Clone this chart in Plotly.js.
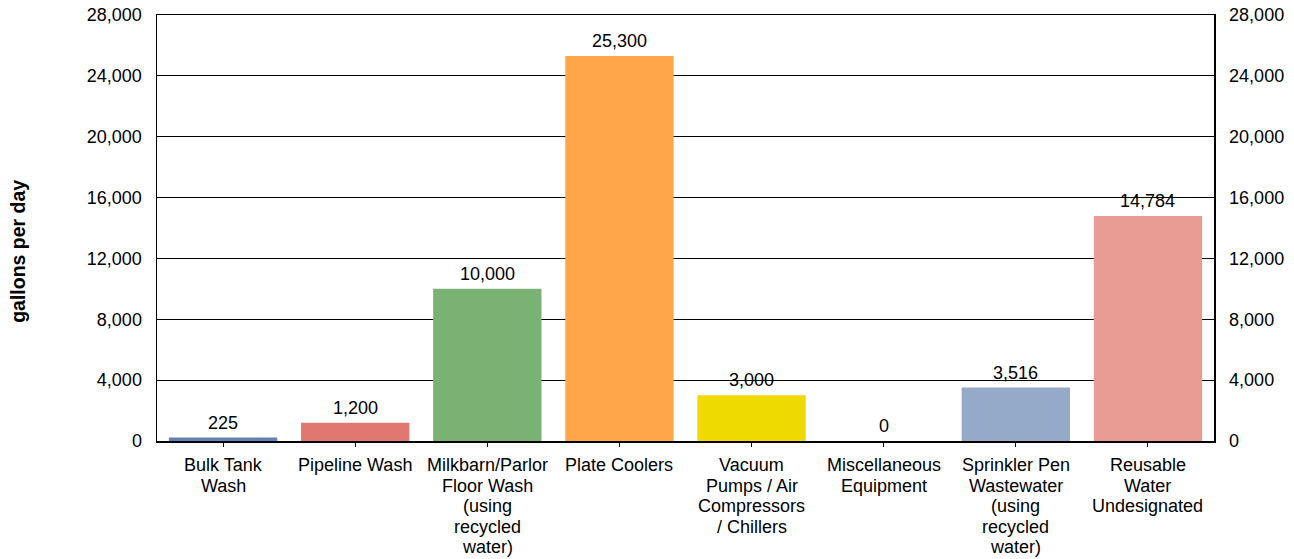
<!DOCTYPE html>
<html><head><meta charset="utf-8">
<script src="https://cdn.plot.ly/plotly-3.0.1.min.js"></script>
<style>body{margin:0;background:#fff}#c{width:1294px;height:559px}</style>
</head><body><div id="c"></div>
<script>
const categories = ["Bulk Tank|Wash","Pipeline Wash","Milkbarn/Parlor|Floor Wash|(using|recycled|water)","Plate Coolers","Vacuum|Pumps / Air|Compressors|/ Chillers","Miscellaneous|Equipment","Sprinkler Pen|Wastewater|(using|recycled|water)","Reusable|Water|Undesignated"];
const values = [225,1200,10000,25300,3000,0,3516,14784];
const barColors = ["#6382B2","#E07770","#7AB273","#FFA54A","#EED900","#94AAC8","#94AAC8","#E89C93"];
const tickVals = [0,4000,8000,12000,16000,20000,24000,28000];
const yTitle = "gallons per day";
const font = {family:"Liberation Sans, Arial, sans-serif", size:18, color:"#000"};

const data = [
 {type:"bar", x:categories, y:values, marker:{color:barColors}, width:0.82,
  hoverinfo:"skip", showlegend:false},
 {type:"scatter", x:categories, y:values, yaxis:"y2", mode:"markers",
  marker:{opacity:0}, hoverinfo:"skip", showlegend:false}
];
const annotations = [];
categories.forEach((c,i)=>{
  annotations.push({x:c, y:values[i], xref:"x", yref:"y", text:values[i].toLocaleString("en-US"),
    showarrow:false, yanchor:"bottom", xanchor:"center", yshift:3, font:font});
  c.split("|").forEach((line,j)=>{
    annotations.push({x:c, y:0, xref:"x", yref:"paper", text:line, showarrow:false,
      yanchor:"middle", xanchor:"center", yshift:-(24+20.5*j), font:font});
  });
});
annotations.push({text:"<b>"+yTitle+"</b>", xref:"paper", yref:"paper", x:(18-157)/1056, y:(441-251)/426, textangle:-90,
   showarrow:false, font:{family:font.family, size:19.5, color:"#000"}, xanchor:"center", yanchor:"middle"});

const layout = {
 width:1294, height:559, paper_bgcolor:"#fff", plot_bgcolor:"#fff",
 margin:{l:157, r:80, t:15, b:118}, font:font, showlegend:false,
 xaxis:{showline:true, linecolor:"#000", linewidth:1.5, mirror:true, ticks:"outside", ticklen:4, tickcolor:"#000",
   showticklabels:false, automargin:false},
 yaxis:{range:[0,28000], tickvals:tickVals, tickformat:",", showgrid:true, gridcolor:"#000", gridwidth:1,
   showline:true, linecolor:"#000", linewidth:1.5, ticks:"", tickfont:font, zeroline:false, automargin:false,
   ticklabelstandoff:10},
 yaxis2:{range:[0,28000], tickvals:tickVals, tickformat:",", overlaying:"y", side:"right", showgrid:false,
   showline:true, linecolor:"#000", linewidth:1.5, ticks:"", tickfont:font, zeroline:false, automargin:false,
   ticklabelstandoff:10},
 annotations:annotations
};
Plotly.newPlot("c", data, layout, {staticPlot:true});
</script></body></html>
